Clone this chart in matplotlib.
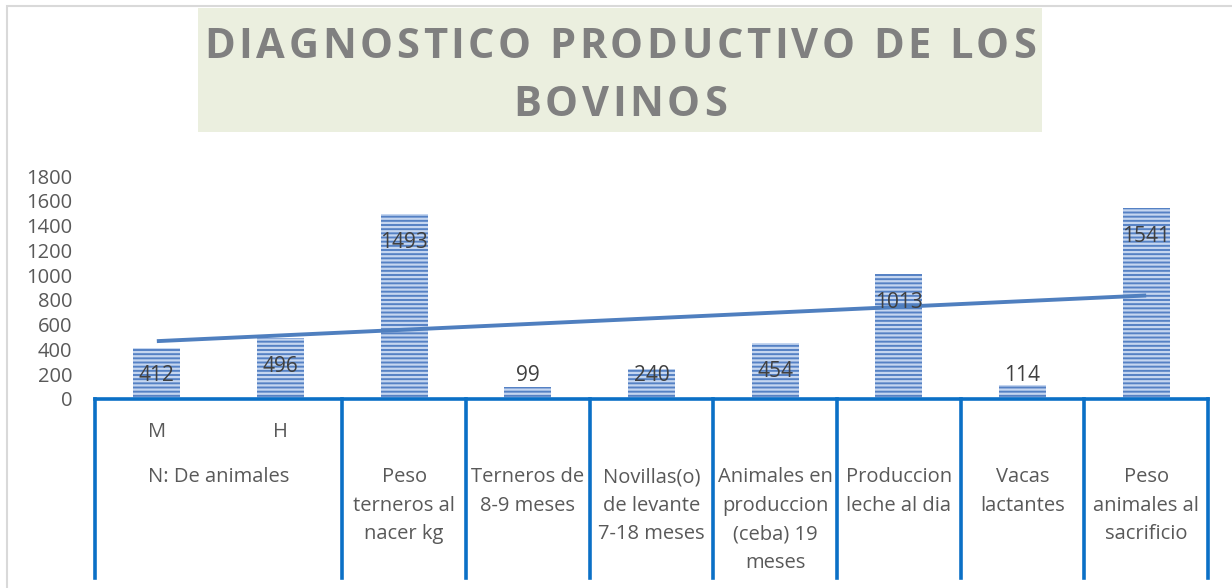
import numpy as np
import matplotlib
matplotlib.use("Agg")
import matplotlib.pyplot as plt
from matplotlib import transforms
from matplotlib.patches import Rectangle
from matplotlib.lines import Line2D
from matplotlib.font_manager import FontProperties, findfont, get_font

# ---------------- data ----------------
sub_labels = ["M", "H", "", "", "", "", "", "", ""]
group_labels = ["N: De animales", "Peso\nterneros al\nnacer kg", "Terneros de\n8-9 meses",
                "Novillas(o)\nde levante\n7-18 meses", "Animales en\nproduccion\n(ceba) 19\nmeses",
                "Produccion\nleche al dia", "Vacas\nlactantes", "Peso\nanimales al\nsacrificio"]
group_spans = [2, 1, 1, 1, 1, 1, 1, 1]
values = [412, 496, 1493, 99, 240, 454, 1013, 114, 1541]
yticks = [0, 200, 400, 600, 800, 1000, 1200, 1400, 1600, 1800]
title_lines = ["DIAGNOSTICO PRODUCTIVO DE LOS", "BOVINOS"]

W, H = 1232, 588
DPI = 100
FONT = "Open Sans"
plt.rcParams["font.family"] = [FONT, "DejaVu Sans"]
plt.rcParams["hatch.linewidth"] = 1.6

fig = plt.figure(figsize=(W / DPI, H / DPI), dpi=DPI)
fig.patch.set_facecolor("white")

def fx(px):
    return px / W

def fy(py):
    return 1 - py / H

# outer chart frame (left/top visible)
fig.add_artist(Rectangle((fx(7), fy(700)), fx(1400), fy(6) - fy(700), transform=fig.transFigure,
                         facecolor="none", edgecolor="#d9d9d9", linewidth=1.5, clip_on=False))

ax_left, ax_right, ax_bottom, ax_top = 95, 1208, 399, 176
ax = fig.add_axes([fx(ax_left), fy(ax_bottom), fx(ax_right - ax_left), fy(ax_top) - fy(ax_bottom)])
ax.set_facecolor("none")
n = len(values)
x = np.arange(n)
ax.set_xlim(-0.5, n - 0.5)
ax.set_ylim(0, 1800)
for s in ax.spines.values():
    s.set_visible(False)
ax.set_xticks([])
ax.set_yticks(yticks)
ax.set_yticklabels([str(t) for t in yticks], fontsize=14.5, color="#595959")
ax.tick_params(axis="y", length=0, pad=16.5)

bars = ax.bar(x, values, width=0.38, color="#5581c4", edgecolor="#c5d6f0", linewidth=0,
              hatch="----", zorder=2)

# trend line (linear fit of the series)
coef = np.polyfit(x, values, 1)
ax.plot(x, np.polyval(coef, x), color="#4f7fbf", linewidth=2.8, zorder=3, solid_capstyle="butt")

# data labels (inside end, kept above the axis)
for xi, v in zip(x, values):
    ax.text(xi, max(v - 210, 210), str(v), ha="center", va="center_baseline", fontsize=15,
            color="#404040", zorder=4)

# category axis lines
blend = transforms.blended_transform_factory(ax.transData, fig.transFigure)
axis_col = "#0b70c6"
fig.add_artist(Line2D([fx(ax_left), fx(ax_right)], [fy(ax_bottom), fy(ax_bottom)],
                      transform=fig.transFigure, color=axis_col, linewidth=2.6, clip_on=False,
                      solid_capstyle="projecting"))
bounds = [-0.5] + list(np.cumsum(group_spans) - 0.5)
for b in bounds:
    fig.add_artist(Line2D([b, b], [fy(ax_bottom), fy(578)], transform=blend, color=axis_col,
                          linewidth=2.6, clip_on=False))

for xi, s in zip(x, sub_labels):
    if s:
        fig.text(xi, fy(432), s, transform=blend, ha="center", va="center", fontsize=14.5,
                 color="#595959")

start = -0.5
for lab, span in zip(group_labels, group_spans):
    cx = start + span / 2
    fig.text(cx, fy(467), lab, transform=blend, ha="center", va="top", fontsize=14.5,
             color="#595959", linespacing=1.57)
    start += span

# title box
fig.add_artist(Rectangle((fx(198), fy(132)), fx(1042 - 198), fy(8) - fy(132),
                         transform=fig.transFigure, facecolor="#ebefdf", edgecolor="none"))

tsize = 30
tprop = FontProperties(family=FONT, weight="bold", size=tsize)
font = get_font(findfont(tprop))
font.set_size(tsize, DPI)
spacing = 3.6

def adv(ch):
    g = font.load_char(ord(ch))
    return g.linearHoriAdvance / 65536.0

for line, cy in zip(title_lines, [42, 100]):
    widths = [adv(c) for c in line]
    total = sum(widths) + spacing * (len(line) - 1)
    xp = 620 - total / 2
    for c, w in zip(line, widths):
        if c != " ":
            fig.text(fx(xp), fy(cy), c, fontproperties=tprop, color="#808080",
                     ha="left", va="center_baseline")
        xp += w + spacing

fig.savefig("out.png", dpi=DPI, facecolor="white")
